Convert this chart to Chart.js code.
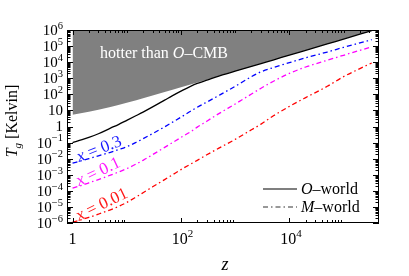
<!DOCTYPE html>
<html>
<head>
<meta charset="utf-8">
<script src="https://cdn.jsdelivr.net/npm/chart.js@4.4.1/dist/chart.umd.min.js"></script>
<style>
  html, body { margin: 0; padding: 0; background: #fff; }
  canvas { display: block; }
</style>
</head>
<body>
<canvas id="chart" width="409" height="276"></canvas>
<script>
// redshift samples
const zValues = [1, 1.5, 2, 3, 5, 7, 10, 15, 20, 30, 50, 70, 100, 150, 200, 300, 500,
  1000, 2000, 3000, 5000, 1e4, 2e4, 5e4, 1e5, 2e5, 3.3e5];

// lower edge of the grey "hotter than O-CMB" band
const oCmbTemp = [5.45, 6.81, 8.18, 10.9, 16.4, 21.8, 30.0, 43.6, 57.2, 84.5, 139, 193, 275,
  411, 548, 820, 1365, 2728, 5453, 8178, 13630, 27250, 54500, 136250, 272500, 545000, 899000];

// O-world gas temperature (solid)
const oWorldTemp = [0.1, 0.151, 0.209, 0.355, 0.79, 1.32, 2.4, 4.8, 7.9, 16.6, 43.7, 83, 158,
  316, 479, 759, 1365, 2728, 5453, 8178, 13630, 27250, 54500, 136250, 272500, 545000, 899000];

// M-world gas temperature (dash-dot)
const mWorldX03 = [5.25e-3, 7.6e-3, 1.0e-2, 1.51e-2, 2.5e-2, 3.63e-2, 5.5e-2, 0.105, 0.174,
  0.363, 0.955, 1.86, 3.8, 8.9, 15.8, 33, 85, 316, 1260, 2510, 4570, 9330, 18600, 42700,
  83200, 158000, 251000];
const mWorldX01 = [1.48e-4, 2.24e-4, 3.16e-4, 5.0e-4, 9.5e-4, 1.45e-3, 2.4e-3, 4.7e-3, 7.9e-3,
  1.78e-2, 5.0e-2, 0.1, 0.209, 0.468, 0.912, 2.14, 6.3, 25.1, 105, 240, 631, 2000, 5010,
  13200, 26900, 54300, 90200];
const mWorldX001 = [1.12e-6, 1.66e-6, 2.24e-6, 3.55e-6, 6.6e-6, 1.05e-5, 1.9e-5, 4.2e-5,
  7.6e-5, 1.78e-4, 5.0e-4, 1.0e-3, 2.09e-3, 4.57e-3, 7.9e-3, 1.74e-2, 4.5e-2, 0.158, 0.63,
  1.41, 4.47, 17.8, 63, 316, 1260, 3980, 8900];

const xTickExponents = [0, 2, 4];
const yTickExponents = [6, 5, 4, 3, 2, 1, 0, -1, -2, -3, -4, -5, -6];

const SERIF = '"Liberation Serif", "DejaVu Serif", serif';
const DASH_DOT = [5, 3, 1.5, 3];

const toPoints = arr => zValues.map((z, i) => ({ x: z, y: arr[i] }));

function drawParts(ctx, parts, x, y) {
  parts.forEach(p => {
    ctx.font = (p.italic ? 'italic ' : '') + p.size + 'px ' + SERIF;
    ctx.fillText(p.text, x, y + (p.dy || 0));
    x += ctx.measureText(p.text).width;
  });
  return x;
}

function partsWidth(ctx, parts) {
  let w = 0;
  parts.forEach(p => {
    ctx.font = (p.italic ? 'italic ' : '') + p.size + 'px ' + SERIF;
    w += ctx.measureText(p.text).width;
  });
  return w;
}

function powerParts(e, size, small, rise) {
  if (e === 0) return [{ text: '1', size: size }];
  if (e === 1) return [{ text: '10', size: size }];
  const exp = e < 0 ? '\u2212' + (-e) : String(e);
  return [{ text: '10', size: size }, { text: exp, size: small, dy: -rise }];
}

function drawRotated(ctx, parts, x, y, deg, color) {
  ctx.save();
  ctx.translate(x, y);
  ctx.rotate(deg * Math.PI / 180);
  ctx.fillStyle = color;
  ctx.textBaseline = 'alphabetic';
  drawParts(ctx, parts, 0, 0);
  ctx.restore();
}

const framePlugin = {
  id: 'frame',
  afterDraw(chart) {
    const ctx = chart.ctx;
    const a = chart.chartArea;
    const xs = chart.scales.x;
    const ys = chart.scales.y;
    const minors = [2, 3, 4, 5, 6, 7, 8, 9];

    ctx.save();
    ctx.strokeStyle = '#000';
    ctx.lineWidth = 1;

    // ticks, all pointing inwards
    ctx.beginPath();
    const yTick = (v, len) => {
      const py = Math.round(ys.getPixelForValue(v)) + 0.5;
      ctx.moveTo(a.left, py); ctx.lineTo(a.left + len, py);
      ctx.moveTo(a.right, py); ctx.lineTo(a.right - len, py);
    };
    for (let e = -6; e <= 6; e++) {
      yTick(Math.pow(10, e), 6);
      if (e < 6) minors.forEach(m => yTick(m * Math.pow(10, e), 3.5));
    }
    const xTick = (v, len, top, bottom) => {
      const px = Math.round(xs.getPixelForValue(v)) + 0.5;
      if (px < a.left || px > a.right) return;
      if (bottom) { ctx.moveTo(px, a.bottom); ctx.lineTo(px, a.bottom - len); }
      if (top) { ctx.moveTo(px, a.top); ctx.lineTo(px, a.top + len); }
    };
    for (let e = 0; e <= 5; e++) {
      const even = e % 2 === 0;
      xTick(Math.pow(10, e), even ? 5 : 3, true, even);
      minors.forEach(m => xTick(m * Math.pow(10, e), 3, true, even));
    }
    ctx.stroke();

    // frame
    ctx.strokeRect(a.left + 0.5, a.top + 0.5, a.right - a.left - 1, a.bottom - a.top - 1);

    // y tick labels
    ctx.fillStyle = '#000';
    ctx.textBaseline = 'middle';
    yTickExponents.forEach(e => {
      const parts = powerParts(e, 15, 10.5, 5);
      const py = ys.getPixelForValue(Math.pow(10, e)) + 1;
      drawParts(ctx, parts, 63 - partsWidth(ctx, parts), py);
    });

    // x tick labels
    ctx.textBaseline = 'alphabetic';
    xTickExponents.forEach(e => {
      const parts = powerParts(e, 16, 11, 7);
      const px = xs.getPixelForValue(Math.pow(10, e));
      drawParts(ctx, parts, px - partsWidth(ctx, parts) / 2 + (e === 0 ? 0 : 1.5), 244);
    });

    // axis titles
    const zParts = [{ text: 'z', size: 18, italic: true }];
    drawParts(ctx, zParts, 225 - partsWidth(ctx, zParts) / 2, 270);

    const tParts = [
      { text: 'T', size: 16, italic: true },
      { text: 'g', size: 11, italic: true, dy: 4 },
      { text: ' [Kelvin]', size: 16 }
    ];
    ctx.save();
    ctx.translate(17, 121 + partsWidth(ctx, tParts) / 2);
    ctx.rotate(-Math.PI / 2);
    drawParts(ctx, tParts, 0, 0);
    ctx.restore();

    // band annotation
    ctx.fillStyle = '#fff';
    drawParts(ctx, [
      { text: 'hotter than ', size: 16 },
      { text: 'O', size: 16, italic: true },
      { text: '\u2013CMB', size: 16 }
    ], 100, 58);

    // curve labels
    const lab = v => [{ text: 'x', size: 17, italic: true }, { text: ' = ' + v, size: 17 }];
    drawRotated(ctx, lab('0.3'), 79, 162, -21, '#1a1aff');
    drawRotated(ctx, lab('0.1'), 79, 186, -25, '#ff1aff');
    drawRotated(ctx, lab('0.01'), 79, 221, -26, '#ff1a1a');

    // legend
    ctx.strokeStyle = '#000';
    ctx.lineWidth = 1.2;
    ctx.beginPath();
    ctx.moveTo(263, 189); ctx.lineTo(297, 189);
    ctx.stroke();
    ctx.setLineDash(DASH_DOT);
    ctx.strokeStyle = '#333';
    ctx.beginPath();
    ctx.moveTo(263, 207); ctx.lineTo(297, 207);
    ctx.stroke();
    ctx.setLineDash([]);
    ctx.fillStyle = '#000';
    drawParts(ctx, [{ text: 'O', size: 16, italic: true }, { text: '\u2013world', size: 16 }], 301, 194);
    drawParts(ctx, [{ text: 'M', size: 16, italic: true }, { text: '\u2013world', size: 16 }], 301, 212);
    ctx.restore();
  }
};

const lineDefaults = { pointRadius: 0, borderWidth: 1.3, fill: false, cubicInterpolationMode: 'monotone' };

new Chart(document.getElementById('chart').getContext('2d'), {
  type: 'line',
  data: {
    datasets: [
      Object.assign({ label: 'O-world', data: toPoints(oWorldTemp), borderColor: '#000' }, lineDefaults),
      Object.assign({ label: 'x = 0.3', data: toPoints(mWorldX03), borderColor: '#0000ff', borderDash: DASH_DOT }, lineDefaults),
      Object.assign({ label: 'x = 0.1', data: toPoints(mWorldX01), borderColor: '#ff00ff', borderDash: DASH_DOT }, lineDefaults),
      Object.assign({ label: 'x = 0.01', data: toPoints(mWorldX001), borderColor: '#ff0000', borderDash: DASH_DOT }, lineDefaults),
      {
        label: 'hotter than O-CMB',
        data: toPoints(oCmbTemp),
        pointRadius: 0,
        borderWidth: 0,
        borderColor: 'rgba(0,0,0,0)',
        backgroundColor: '#808080',
        fill: 'end'
      }
    ]
  },
  options: {
    responsive: false,
    animation: false,
    layout: { padding: { left: 0, right: 30, top: 30, bottom: 0 } },
    plugins: { legend: { display: false }, tooltip: { enabled: false } },
    scales: {
      x: {
        type: 'logarithmic',
        min: 0.79,
        max: 4.5e5,
        grid: { display: false },
        border: { display: false },
        ticks: { display: false },
        afterFit: scale => { scale.height = 53; }
      },
      y: {
        type: 'logarithmic',
        min: 1e-6,
        max: 1e6,
        grid: { display: false },
        border: { display: false },
        ticks: { display: false },
        afterFit: scale => { scale.width = 67; }
      }
    }
  },
  plugins: [framePlugin]
});
</script>
</body>
</html>
